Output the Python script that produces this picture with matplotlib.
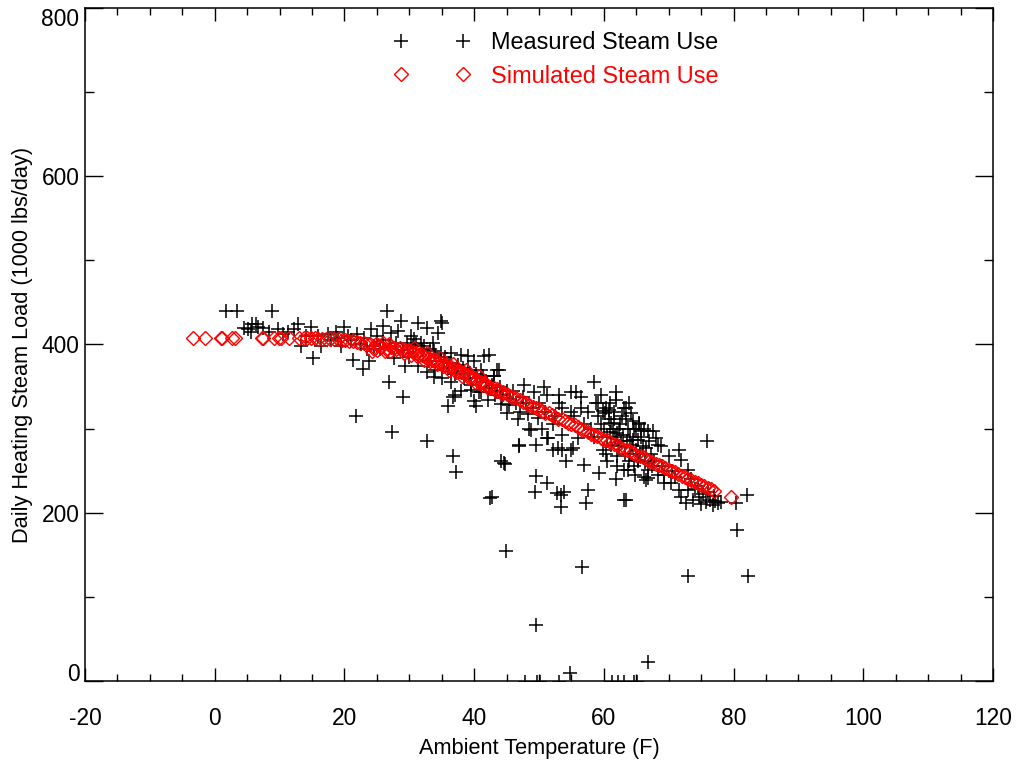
import matplotlib
matplotlib.use("Agg")
import matplotlib.pyplot as plt
from matplotlib.ticker import MultipleLocator

plt.rcParams['font.family'] = ['Liberation Sans', 'DejaVu Sans']

# Measured steam use: ambient temperature (F) and load (1000 lbs/day)
meas_temp = [
    1.7, 3.5, 8.8, 5.1, 5.7, 6.3, 6.6, 5.6, 8.3, 9.7, 11.3, 12.8, 12.2, 14.8, 13.3, 15.1, 16.4, 17.5, 18.7, 16.0, 14.0, 10.5, 7.5, 4.5,
    19.9, 19.4, 21.3, 21.8, 23.8, 22.8, 24.1, 25.9, 26.6, 27.2, 28.2, 28.7, 27.7, 26.9, 29.0, 27.3, 20.5, 21.0, 22.0, 23.0, 24.5, 25.5, 26.0, 27.0, 28.0, 23.5, 25.0, 18.0, 19.0, 22.5,
    29.7, 29.0, 30.7, 31.3, 31.8, 32.0, 32.8, 33.6, 33.8, 34.4, 34.9, 35.1, 31.3, 32.8, 33.8, 32.8, 36.7, 37.2, 35.9, 36.7, 39.5, 40.0, 40.3, 36.4, 38.0, 39.0, 40.0, 37.5, 39.0, 34.9, 30.5, 35.5, 36.0, 37.0, 38.5, 39.5, 40.5, 41.0, 29.3, 30.0, 33.0, 34.0, 35.0, 36.5, 38.0, 37.0, 40.8, 41.5, 42.3,
    30.2, 31.0, 32.3, 33.2, 34.0, 35.3, 36.2, 37.3, 38.3, 39.3, 40.3, 41.3, 42.3, 43.2, 44.3, 45.3, 41.8, 42.8,
    43.8, 43.0, 42.1, 44.1, 41.0, 42.5, 42.7, 44.1, 44.8, 44.9, 43.6, 43.1, 42.0, 43.5, 44.5, 45.5, 46.0, 46.5, 47.7, 49.3, 46.9, 48.7, 49.6, 46.7, 48.3, 48.5, 49.8, 46.9, 44.6, 49.6, 49.4, 49.6, 47.0, 45.0, 48.0, 49.0, 44.0, 45.0, 47.5, 50.0,
    50.8, 51.3, 53.1, 54.9, 55.7, 56.5, 58.5, 53.1, 53.6, 56.5, 59.1, 59.8, 59.1, 55.4, 52.1, 56.0, 53.6, 51.3, 51.4, 52.1, 52.9, 53.6, 54.9, 55.2, 54.2, 51.3, 52.8, 53.4, 53.4, 57.5, 57.3, 59.3, 57.0, 54.8, 56.6, 53.9, 58.0, 57.0, 59.5, 58.5, 52.5, 55.0, 51.0, 50.5, 57.5,
    61.9, 61.9, 63.4, 63.4, 60.8, 61.1, 61.4, 61.1, 62.3, 62.1, 63.1, 63.1, 64.7, 65.4, 66.2, 65.2, 66.5, 65.2, 66.2, 66.8, 63.9, 63.1, 64.5, 65.4, 63.7, 65.0, 65.7, 66.8, 67.6, 68.1, 64.5, 68.3, 68.8, 66.0, 70.1, 67.8, 68.3, 69.3, 66.5, 69.3, 65.2, 63.7, 66.8, 63.4, 66.8, 60.0, 60.5, 62.0, 62.5, 64.0, 61.5, 62.8, 64.2, 60.3, 61.0, 65.8, 67.0, 64.0, 62.0, 60.5, 61.8, 64.8, 67.2, 69.0,
    58.8, 59.6, 60.2, 60.8, 61.6, 62.4, 62.9, 63.6, 64.3, 64.9, 65.5, 66.3, 67.4, 60.9, 61.7, 62.7, 63.3, 63.9, 64.6, 59.9, 60.4,
    71.6, 75.9, 71.9, 72.9, 70.4, 71.6, 72.9, 71.9, 73.7, 74.7, 75.8, 77.6, 76.8, 72.7, 80.4, 82.1, 80.6, 82.3, 73.0, 70.5, 73.5, 74.5, 76.0, 77.0, 71.0, 75.0,
    74.0, 75.3, 76.4, 77.2, 78.0,
    47.8, 49.7, 50.2, 53.1, 61.3, 62.2, 63.1, 64.7, 65.1,
]
meas_load = [
    440, 440, 440, 418, 424, 424, 421, 415, 415, 418, 415, 424, 418, 421, 398, 384, 398, 412, 415, 410, 410, 412, 420, 420,
    421, 398, 381, 315, 380, 371, 418, 422, 440, 414, 416, 428, 384, 355, 337, 296, 410, 405, 412, 408, 398, 395, 405, 398, 402, 395, 410, 405, 408, 400,
    402, 394, 406, 426, 402, 394, 420, 402, 392, 414, 428, 426, 374, 367, 361, 285, 268, 248, 327, 338, 346, 333, 327, 390, 388, 386, 380, 376, 370, 390, 398, 385, 372, 365, 360, 352, 360, 370, 375, 385, 380, 370, 360, 355, 345, 340, 343, 386, 388,
    410, 400, 398, 395, 388, 380, 378, 373, 372, 366, 365, 362, 348, 340, 336, 328, 357, 352,
    370, 362, 334, 329, 343, 218, 219, 262, 258, 154, 370, 362, 355, 345, 340, 335, 345, 330, 352, 344, 280, 298, 280, 311, 317, 299, 313, 279, 259, 244, 225, 67, 320, 318, 330, 325, 350, 345, 338, 330,
    349, 340, 340, 343, 344, 337, 355, 331, 325, 325, 331, 321, 315, 315, 305, 289, 293, 289, 289, 275, 277, 275, 275, 277, 262, 235, 223, 221, 207, 227, 211, 247, 257, 9, 135, 225, 300, 305, 305, 290, 315, 320, 320, 300, 320,
    343, 334, 325, 311, 311, 307, 299, 281, 279, 255, 251, 215, 299, 305, 299, 287, 277, 261, 243, 241, 331, 325, 309, 307, 299, 299, 297, 297, 297, 289, 287, 281, 279, 279, 267, 261, 245, 245, 239, 235, 263, 251, 251, 215, 23, 300, 290, 295, 305, 290, 320, 315, 318, 325, 330, 290, 285, 270, 268, 262, 240, 245, 270, 255,
    330, 340, 318, 322, 312, 300, 292, 285, 280, 275, 270, 260, 255, 296, 290, 285, 270, 262, 255, 275, 270,
    275, 285, 263, 251, 235, 227, 227, 219, 215, 219, 213, 211, 209, 211, 211, 221, 180, 125, 125, 250, 240, 232, 225, 220, 242, 210,
    228, 222, 215, 214, 213,
    -1.5, -1.5, -1.5, -1.5, -1.5, -1.5, -1.5, -1.5, -1.5,
]

# Simulated steam use
sim_temp = [
    -3.4, -1.5, 0.9, 1.2, 2.7, 3.2, 7.3, 7.5, 9.1, 9.9, 10.2, 11.4, 13.0, 13.7, 14.3, 14.8, 15.4, 16.0, 16.5, 17.2, 17.8, 18.4,
    19.0, 19.6, 20.1, 20.7, 21.3, 21.9, 22.4, 23.0, 23.6, 24.0, 24.4, 24.8, 25.2, 25.6, 26.0, 26.4, 26.8, 27.2, 27.6, 28.0,
    28.5, 29.0, 29.5, 30.0, 30.5, 31.0, 31.5, 32.0, 32.5, 33.0, 33.5, 34.0, 34.5, 35.0, 35.5, 36.0, 36.5, 37.0, 37.5, 38.0,
    38.5, 39.0, 39.5, 40.0, 40.5, 41.0, 41.5, 42.0, 42.5, 43.0, 43.5, 44.0, 44.5, 45.0, 45.5, 46.0, 46.5, 47.0, 47.5, 48.0,
    48.5, 49.0, 49.5, 50.0, 50.5, 51.0, 51.5, 52.0, 52.5, 53.0, 53.5, 54.0, 54.5, 55.0, 55.5, 56.0, 56.5, 57.0, 57.5, 58.0,
    58.5, 59.0, 59.5, 60.0, 60.5, 61.0, 61.5, 62.0, 62.5, 63.0, 63.5, 64.0, 64.5, 65.0, 65.5, 66.0, 66.5, 67.0, 67.5, 68.0,
    68.5, 69.0, 69.5, 70.0, 70.5, 71.0, 71.5, 72.0, 72.5, 73.0, 73.5, 74.0, 74.5, 75.0, 75.5, 76.0, 76.5, 77.0, 79.6,
    24.2, 25.0, 26.2, 27.0, 29.2, 30.3, 31.2, 32.2, 33.2, 34.2, 35.2, 36.2, 37.2, 38.2, 39.2, 40.2, 41.2, 42.2, 43.3, 44.3,
    30.7, 32.7, 34.7, 36.7, 38.7, 40.7,
]
sim_load = [
    408, 408, 408, 408, 408, 408, 408, 408, 408, 408, 408, 408, 408, 408, 408, 408, 408, 407, 407, 407, 406, 406,
    406, 405, 405, 404, 404, 403, 402, 402, 401, 400, 396, 401, 399, 397, 402, 395, 400, 397, 396, 395,
    396, 395, 394, 393, 391, 390, 388, 387, 385, 384, 382, 381, 379, 378, 376, 374, 373, 371, 369, 367,
    366, 364, 362, 360, 358, 356, 354, 352, 350, 348, 347, 345, 343, 341, 339, 337, 336, 334, 332, 330,
    328, 326, 325, 323, 321, 319, 318, 316, 314, 312, 311, 309, 307, 305, 304, 302, 300, 298, 296, 294,
    293, 291, 289, 287, 286, 284, 282, 280, 278, 276, 275, 273, 271, 269, 268, 266, 264, 262, 260, 258,
    257, 255, 253, 251, 250, 248, 246, 244, 242, 240, 239, 237, 235, 233, 232, 230, 228, 226, 219,
    392, 393, 392, 392, 390, 388, 386, 382, 380, 377, 374, 370, 367, 363, 360, 356, 352, 348, 345, 341,
    396, 390, 384, 377, 370, 363,
]

x_ticks = [-20, 0, 20, 40, 60, 80, 100, 120]
y_ticks = [0, 200, 400, 600, 800]

fig = plt.figure(figsize=(10.16, 7.6), dpi=100)
ax = fig.add_axes([85 / 1016, 79 / 760, 908 / 1016, 673 / 760])

ax.plot(meas_temp, meas_load, linestyle='none', marker='+', color='black',
        markersize=9.5, markeredgewidth=1.1, label='Measured Steam Use')
ax.plot(sim_temp, sim_load, linestyle='none', marker='D', color='red',
        markerfacecolor='none', markersize=7.3, markeredgewidth=1.0, label='Simulated Steam Use')

ax.set_xlim(-20, 120)
ax.set_ylim(0, 800)
ax.set_xticks(x_ticks)
ax.set_yticks(y_ticks)
ax.set_xticklabels([str(v) for v in x_ticks])
ax.set_yticklabels([str(v) for v in y_ticks])
ax.xaxis.set_minor_locator(MultipleLocator(5))
ax.yaxis.set_minor_locator(MultipleLocator(100))

ax.tick_params(axis='both', which='both', direction='in', top=True, right=True,
               labelsize=16.4, width=1.0, color='black')
ax.tick_params(axis='x', which='major', length=9.7, pad=18.5)
ax.tick_params(axis='x', which='minor', length=4.8)
ax.tick_params(axis='y', which='major', length=13, pad=4)
ax.tick_params(axis='y', which='minor', length=6.5)

labs = ax.get_yticklabels()
labs[0].set_verticalalignment('baseline')
labs[-1].set_verticalalignment('top')

for s in ax.spines.values():
    s.set_linewidth(1.1)

ax.set_xlabel('Ambient Temperature (F)', fontsize=15.7, labelpad=6)
ax.set_ylabel('Daily Heating Steam Load (1000 lbs/day)', fontsize=15.7, labelpad=6)

leg = ax.legend(loc='upper left', bbox_to_anchor=(394 / 1016, 1 - 31 / 760),
                bbox_transform=fig.transFigure, frameon=False, numpoints=2,
                handlelength=3.25, handletextpad=0.9, labelspacing=0.45,
                borderpad=0, borderaxespad=0, fontsize=16.9)
for txt, col in zip(leg.get_texts(), ['black', 'red']):
    txt.set_color(col)

fig.savefig('out.png', dpi=100)
